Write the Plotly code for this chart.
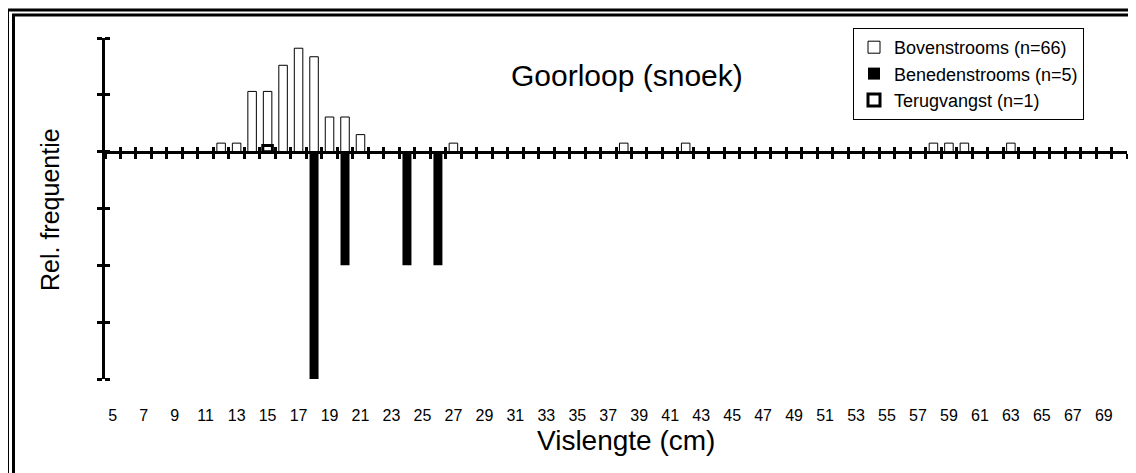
import plotly.graph_objects as go

# ---- data ----
x_min, x_max = 5, 70
label_vals = list(range(5, 70, 2))

boven_len = [12, 13, 14, 15, 16, 17, 18, 19, 20, 21, 27, 38, 42, 58, 59, 60, 63]
boven_freq = [0.015, 0.015, 0.106, 0.106, 0.152, 0.182, 0.167, 0.061, 0.061, 0.030,
              0.015, 0.015, 0.015, 0.015, 0.015, 0.015, 0.015]

beneden_len = [18, 20, 24, 26]
beneden_freq = [-0.4, -0.2, -0.2, -0.2]

terug_len = [15]
terug_freq = [0.011]

y_ticks = [-0.4, -0.3, -0.2, -0.1, 0.0, 0.1, 0.2]

FONT = "Liberation Sans, Arial, sans-serif"

# page has an 8px body margin; the figure is laid out so that the plot area
# lands at page x 105..1127, y 38..379
W, H = 1128, 465
ML, MT = 97, 30
PW, PH = 1022, 341

fig = go.Figure()
fig.add_trace(go.Bar(x=boven_len, y=boven_freq, name="Bovenstrooms (n=66)", width=0.55,
                     marker=dict(color="white", line=dict(color="black", width=1)),
                     xaxis="x", yaxis="y"))
fig.add_trace(go.Bar(x=beneden_len, y=beneden_freq, name="Benedenstrooms (n=5)", width=0.58,
                     marker=dict(color="black", line=dict(color="black", width=0)),
                     xaxis="x2", yaxis="y"))
fig.add_trace(go.Bar(x=terug_len, y=terug_freq, name="Terugvangst (n=1)", width=0.62,
                     marker=dict(color="white", line=dict(color="black", width=3)),
                     xaxis="x3", yaxis="y"))

xr = [x_min - 0.5, x_max + 0.5]
yr = [y_ticks[0], y_ticks[-1]]
zero_pos = (0 - yr[0]) / (yr[1] - yr[0])

axis_common = dict(range=xr, showgrid=False, zeroline=False, fixedrange=True)


def px_x(p):
    return (p - 105) / PW


def px_y(p):
    return (379 - p) / PH


fig.update_layout(
    width=W, height=H,
    margin=dict(l=ML, r=W - ML - PW, t=MT, b=H - MT - PH, autoexpand=False),
    paper_bgcolor="white", plot_bgcolor="white",
    barmode="overlay",
    font=dict(family=FONT, color="black"),
    showlegend=True,
    legend=dict(x=px_x(853), y=px_y(28), xanchor="left", yanchor="top",
                bordercolor="black", borderwidth=1, bgcolor="white",
                font=dict(size=18, family=FONT), traceorder="normal"),
    xaxis=dict(**axis_common, type="linear", tickmode="array", tickvals=label_vals,
               ticktext=[str(v) for v in label_vals], showline=False,
               ticks="outside", ticklen=22, tickcolor="rgba(0,0,0,0)",
               tickfont=dict(size=16, family=FONT)),
    xaxis2=dict(**axis_common, overlaying="x", anchor="free", position=zero_pos,
                showline=True, linewidth=3, linecolor="black",
                tickmode="linear", tick0=x_min - 0.5, dtick=1,
                ticks="outside", ticklen=5, tickwidth=3, tickcolor="black",
                showticklabels=False),
    xaxis3=dict(**axis_common, overlaying="x", anchor="free", position=zero_pos,
                showline=False,
                tickmode="linear", tick0=x_min - 0.5, dtick=1,
                ticks="inside", ticklen=5, tickwidth=3, tickcolor="black",
                showticklabels=False),
    yaxis=dict(range=yr, showgrid=False, zeroline=False, fixedrange=True,
               showline=True, linewidth=3, linecolor="black",
               tickmode="array", tickvals=y_ticks, showticklabels=False,
               ticks="outside", ticklen=5, tickwidth=3, tickcolor="black",
               minor=dict(ticks="inside", tickmode="array",
                          tickvals=[v + 1e-7 for v in y_ticks],
                          ticklen=5, tickwidth=3, tickcolor="black", showgrid=False)),
)

fig.add_annotation(text="Goorloop (snoek)", x=px_x(627), y=px_y(75), xref="paper", yref="paper",
                   showarrow=False, font=dict(size=30, family=FONT), xanchor="center", yanchor="middle")
fig.add_annotation(text="Vislengte (cm)", x=px_x(626), y=px_y(440), xref="paper", yref="paper",
                   showarrow=False, font=dict(size=28, family=FONT), xanchor="center", yanchor="middle")
fig.add_annotation(text="Rel. frequentie", x=px_x(50), y=px_y(210), xref="paper", yref="paper",
                   showarrow=False, textangle=-90, font=dict(size=25, family=FONT),
                   xanchor="center", yanchor="middle")

# double frame around the chart
frame = dict(type="rect", xref="paper", yref="paper", fillcolor="rgba(0,0,0,0)", layer="above",
             line=dict(color="black", width=3))
fig.add_shape(**frame, x0=px_x(7.5), y0=px_y(10), x1=px_x(1135.5), y1=px_y(520))
fig.add_shape(**frame, x0=px_x(13.5), y0=px_y(15), x1=px_x(1131.5), y1=px_y(520))

fig.write_html("out.html")
